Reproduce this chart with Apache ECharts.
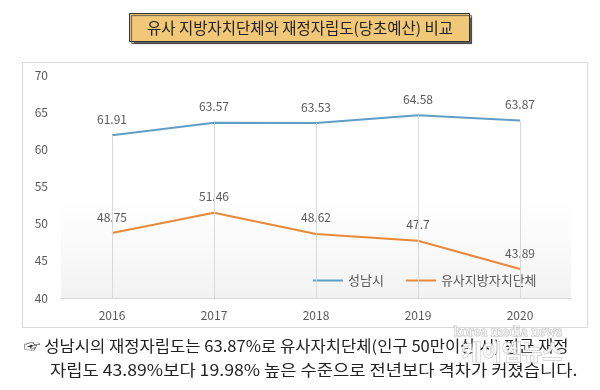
<!DOCTYPE html>
<html><head><meta charset="utf-8">
<script src="https://cdn.jsdelivr.net/npm/echarts@6/dist/echarts.min.js"></script>
<style>html,body{margin:0;padding:0;background:#fff}#c{width:600px;height:390px}</style>
</head><body><div id="c"></div>
<script>
const categories = ['2016', '2017', '2018', '2019', '2020'];
const seongnam = [61.91, 63.57, 63.53, 64.58, 63.87];
const similar = [48.75, 51.46, 48.62, 47.7, 43.89];
const seriesNames = ['성남시', '유사지방자치단체'];
const yTicks = [40, 45, 50, 55, 60, 65, 70];
const titleText = '유사 지방자치단체와 재정자립도(당초예산) 비교';
const noteLine1 = '☞ 성남시의 재정자립도는 63.87%로 유사자치단체(인구 50만이상 시) 평균 재정';
const noteLine2 = '자립도 43.89%보다 19.98% 높은 수준으로 전년보다 격차가 커졌습니다.';

const FONT = 'Noto Sans CJK KR';
const BLUE = '#5f9ec6', ORANGE = '#e8893a';
const chart = echarts.init(document.getElementById('c'), null, {renderer: 'canvas'});
const dropLines = categories.map((c, i) => [{xAxis: c, yAxis: seongnam[i]}, {xAxis: c, yAxis: yTicks[0]}]);

chart.setOption({
  backgroundColor: '#fff',
  animation: false,
  textStyle: {fontFamily: FONT},
  grid: {left: 61, right: 29, top: 75, bottom: 92},
  legend: {
    data: seriesNames, left: 308, top: 269, icon: 'rect', itemWidth: 30, itemHeight: 2, itemGap: 22,
    textStyle: {fontSize: 13, color: '#595959', fontFamily: FONT}
  },
  xAxis: {
    type: 'category', data: categories, boundaryGap: true,
    axisLine: {lineStyle: {color: '#d9d9d9'}}, axisTick: {show: false},
    axisLabel: {color: '#595959', fontSize: 12, margin: 11},
    splitLine: {show: false}
  },
  yAxis: {
    type: 'value', min: yTicks[0], max: yTicks[yTicks.length - 1], interval: 5,
    axisLine: {show: false}, axisTick: {show: false}, splitLine: {show: false},
    axisLabel: {color: '#595959', fontSize: 12, margin: 13}
  },
  series: [
    {
      name: seriesNames[0], type: 'line', data: seongnam, color: BLUE,
      symbol: 'circle', symbolSize: 0.01, lineStyle: {width: 2, color: BLUE},
      itemStyle: {color: BLUE},
      label: {show: true, position: 'top', distance: 10, color: '#595959', fontSize: 12},
      markLine: {silent: true, symbol: 'none', label: {show: false},
        lineStyle: {color: '#d9d9d9', width: 1, type: 'solid'}, data: dropLines}
    },
    {
      name: seriesNames[1], type: 'line', data: similar, color: ORANGE,
      symbol: 'circle', symbolSize: 0.01, lineStyle: {width: 2, color: ORANGE},
      itemStyle: {color: ORANGE},
      label: {show: true, position: 'top', distance: 10, color: '#595959', fontSize: 12}
    }
  ],
  graphic: [
    {type: 'rect', z: -10, silent: true, shape: {x: 61, y: 200, width: 510, height: 98},
      style: {fill: new echarts.graphic.LinearGradient(0, 0, 0, 1, [
        {offset: 0, color: 'rgba(245,245,245,0)'}, {offset: 1, color: 'rgba(242,242,242,1)'}])}},
    {type: 'rect', silent: true, shape: {x: 22.5, y: 62.5, width: 565, height: 265},
      style: {fill: 'none', stroke: '#d9d9d9', lineWidth: 1}},
    {type: 'rect', silent: true, shape: {x: 129.5, y: 13.5, width: 340, height: 28},
      style: {fill: '#f0c878', stroke: '#333', lineWidth: 1, shadowColor: 'rgba(60,60,60,0.8)', shadowOffsetX: 2, shadowOffsetY: 2, shadowBlur: 1}},
    {type: 'text', silent: true, x: 300, y: 28,
      style: {text: titleText, fontFamily: FONT, fontSize: 15.5, fill: '#222', textAlign: 'center', textVerticalAlign: 'middle'}},
    {type: 'text', silent: true, x: 24, y: 346, scaleX: 1.07,
      style: {text: noteLine1, fontFamily: FONT, fontSize: 15.5, fill: '#222', textAlign: 'left', textVerticalAlign: 'middle'}},
    {type: 'text', silent: true, x: 50, y: 370, scaleX: 1.14,
      style: {text: noteLine2, fontFamily: FONT, fontSize: 15.5, fill: '#222', textAlign: 'left', textVerticalAlign: 'middle'}},
    {type: 'text', silent: true, x: 508, y: 332,
      style: {text: 'korea media news', fontFamily: 'Liberation Serif', fontSize: 15, fill: 'rgba(255,255,255,0.85)', stroke: 'rgba(170,170,170,0.8)', lineWidth: 1, textAlign: 'center', textVerticalAlign: 'middle'}},
    {type: 'text', silent: true, x: 512, y: 352,
      style: {text: '케이엠뉴스', fontFamily: FONT, fontSize: 22, fontWeight: 'bold', fill: 'rgba(255,255,255,0.85)', stroke: 'rgba(170,170,170,0.8)', lineWidth: 1, textAlign: 'center', textVerticalAlign: 'middle'}}
  ]
});
</script></body></html>
